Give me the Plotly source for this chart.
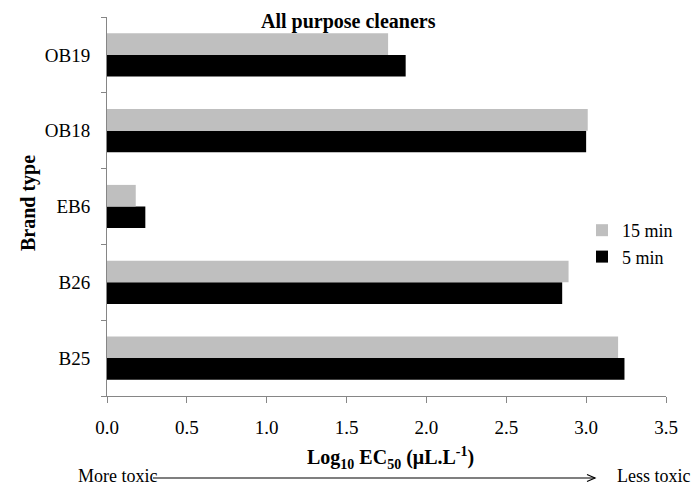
import plotly.graph_objects as go

brands = ["B25", "B26", "EB6", "OB18", "OB19"]
min5 = [3.24, 2.85, 0.24, 3.00, 1.87]
min15 = [3.20, 2.89, 0.18, 3.01, 1.76]
series_names = ["5 min", "15 min"]
x_ticks = [0.0, 0.5, 1.0, 1.5, 2.0, 2.5, 3.0, 3.5]
x_tick_labels = ["0.0", "0.5", "1.0", "1.5", "2.0", "2.5", "3.0", "3.5"]

W, H = 698, 486
L, R, T, B = 107, 32, 17, 90
PW, PH = W - L - R, H - T - B


def px(x):
    return (x - L) / PW


def py(y):
    return (H - B - y) / PH


FONT = "Liberation Serif"
AX = "#868686"

fig = go.Figure()
fig.add_trace(go.Bar(y=brands, x=min5, name=series_names[0], orientation="h",
                     marker=dict(color="#000000", line=dict(width=0))))
fig.add_trace(go.Bar(y=brands, x=min15, name=series_names[1], orientation="h",
                     marker=dict(color="#BFBFBF", line=dict(width=0))))

fig.update_layout(
    width=W, height=H,
    margin=dict(l=L, r=R, t=T, b=B, pad=0),
    paper_bgcolor="white", plot_bgcolor="white",
    barmode="group", bargap=0.43, bargroupgap=0,
    font=dict(family=FONT, size=18, color="black"),
    showlegend=True,
    legend=dict(x=px(582), y=py(212), xanchor="left", yanchor="top",
                traceorder="reversed", font=dict(size=18, family=FONT),
                bgcolor="rgba(0,0,0,0)", itemwidth=30),
    xaxis=dict(range=[0, 3.5], tickvals=x_ticks, ticktext=x_tick_labels,
               showgrid=False, zeroline=False, showline=True, linecolor=AX,
               linewidth=1, ticks="outside", ticklen=6, tickcolor=AX,
               tickfont=dict(size=19, family=FONT), ticklabelstandoff=8),
    yaxis=dict(showgrid=False, zeroline=False, showline=True, linecolor=AX,
               linewidth=1, ticks="outside", ticklen=5, tickcolor=AX,
               tickson="boundaries", range=[-0.5, 4.5],
               tickfont=dict(size=19, family=FONT), ticklabelstandoff=12),
)


def ann(text, x, y, size=18, angle=0):
    return dict(text=text, x=px(x), y=py(y), xref="paper", yref="paper",
                xanchor="center", yanchor="middle", showarrow=False,
                textangle=angle, font=dict(size=size, family=FONT, color="black"))


annotations = [
    ann("<b>All purpose cleaners</b>", 348, 22, size=20),
    ann("<b>Brand type</b>", 28, 203, size=20, angle=-90),
    ann("<b>Log<sub>10</sub> EC<sub>50</sub> (μL.L<sup>-1</sup>)</b>", 390, 458, size=20),
    ann("More toxic", 117, 476),
    ann("Less toxic", 654, 476),
]
fig.update_layout(annotations=annotations)

ya = 478
shapes = [
    dict(type="line", xref="paper", yref="paper", x0=px(153), x1=px(595), y0=py(ya), y1=py(ya),
         line=dict(color="black", width=1.2)),
    dict(type="path", xref="paper", yref="paper",
         path=f"M {px(587)} {py(ya-3.5)} L {px(595)} {py(ya)} L {px(587)} {py(ya+3.5)}",
         line=dict(color="black", width=1.2)),
]
fig.update_layout(shapes=shapes)

fig.write_html("out.html")
